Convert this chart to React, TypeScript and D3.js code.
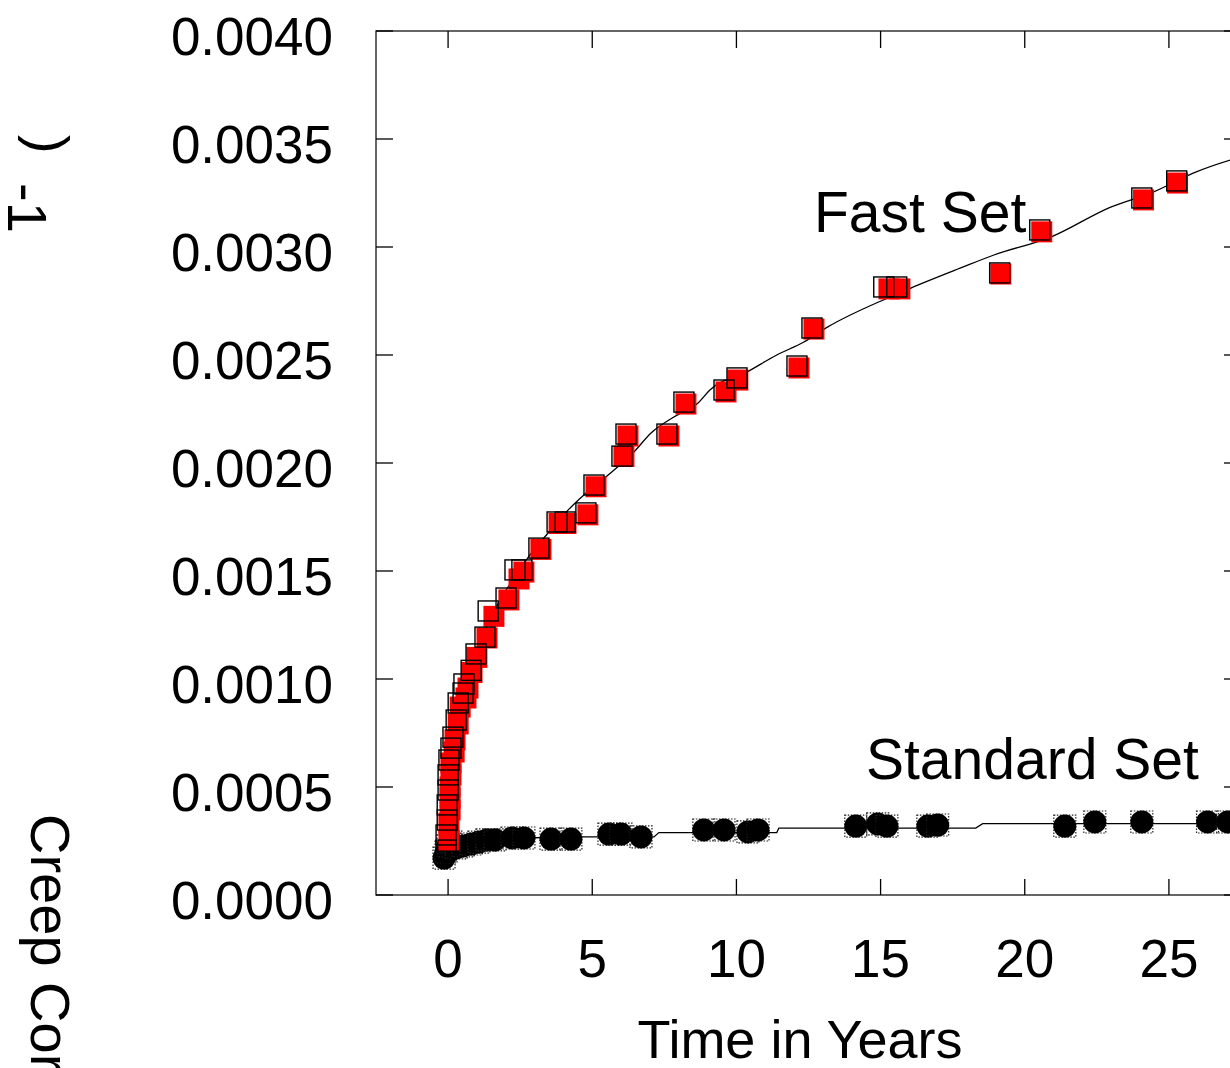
import React, { useEffect, useRef } from 'react';
import * as d3 from 'd3';

const W = 1230;
const H = 1068;

// Fast Set - red filled squares
const fastRedT = [0.03, 0.03, 0.07, 0.07, 0.07, 0.1, 0.1, 0.21, 0.24, 0.35, 0.42, 0.62, 0.69, 0.83, 1.0, 1.35, 1.59, 2.11, 2.46, 2.63, 3.22, 3.85, 4.09, 4.85, 5.13, 6.1, 6.24, 7.66, 8.25, 9.64, 10.05, 12.17, 12.69, 15.29, 15.67, 19.17, 20.59, 24.12, 25.3];
const fastRedV = [0.000255, 0.000333, 0.000394, 0.000449, 0.0005, 0.000556, 0.000611, 0.000662, 0.000718, 0.000792, 0.00087, 0.000912, 0.000958, 0.00103, 0.0011, 0.00119, 0.00129, 0.001366, 0.001463, 0.001495, 0.0016, 0.00172, 0.00172, 0.00176, 0.00189, 0.00203, 0.002125, 0.002125, 0.002273, 0.002329, 0.002384, 0.00244, 0.00262, 0.002806, 0.002806, 0.002875, 0.00307, 0.003218, 0.003296];

// Fast Set - hollow black squares
const fastOpenT = [-0.07, -0.07, -0.03, -0.03, 0, 0, 0.03, 0.1, 0.17, 0.28, 0.35, 0.52, 0.55, 0.8, 0.97, 1.28, 1.39, 2.01, 2.32, 2.56, 3.15, 3.78, 4.06, 4.78, 5.06, 6.03, 6.17, 7.59, 8.18, 9.57, 10.02, 12.1, 12.62, 15.11, 15.56, 19.13, 20.52, 24.06, 25.27];
const fastOpenV = [0.000208, 0.000278, 0.000347, 0.000417, 0.000486, 0.000556, 0.000625, 0.00068, 0.000731, 0.00081, 0.000889, 0.000935, 0.000977, 0.00104, 0.001116, 0.001194, 0.001315, 0.001375, 0.001505, 0.001505, 0.001606, 0.001727, 0.001727, 0.001769, 0.001898, 0.002032, 0.002134, 0.002134, 0.002282, 0.002338, 0.002394, 0.002449, 0.002625, 0.002815, 0.002815, 0.00288, 0.003079, 0.003227, 0.003306];

// Fast Set fitted curve
const fastFitT = [0, 0.03, 0.14, 0.28, 0.52, 0.87, 1.32, 1.84, 2.36, 2.81, 3.47, 4.16, 4.71, 5.55, 6.41, 7.04, 7.83, 8.67, 9.08, 10.36, 11.4, 12.34, 13.17, 15.25, 16.05, 17.78, 18.93, 20.9, 22.98, 24.47, 25.86, 27.14, 27.5];
const fastFitV = [0.000162, 0.00044, 0.000625, 0.000787, 0.000949, 0.001088, 0.001236, 0.001375, 0.001481, 0.001569, 0.001676, 0.001782, 0.001852, 0.001944, 0.002046, 0.002139, 0.002213, 0.002278, 0.002338, 0.002421, 0.0025, 0.00256, 0.00263, 0.002764, 0.00281, 0.002903, 0.002963, 0.003046, 0.003185, 0.003255, 0.003343, 0.003403, 0.003417];

// Standard Set - black circles
const stdT = [-0.14, -0.07, 0, 0.1, 0.28, 0.52, 0.8, 1.07, 1.35, 1.63, 2.22, 2.63, 3.57, 4.26, 5.58, 6.0, 6.69, 8.87, 9.57, 10.4, 10.75, 14.14, 14.9, 15.22, 16.64, 16.98, 21.39, 22.43, 24.06, 26.34, 27.04];
const stdV = [0.000171, 0.000199, 0.000227, 0.000245, 0.000218, 0.000227, 0.000236, 0.000245, 0.000255, 0.000255, 0.000264, 0.000264, 0.000259, 0.000259, 0.000282, 0.000282, 0.000269, 0.000301, 0.000301, 0.000292, 0.000301, 0.000319, 0.000329, 0.000319, 0.000319, 0.000324, 0.000319, 0.000338, 0.000338, 0.000338, 0.000338];

// Standard Set fitted curve
const stdFitT = [0, 0.07, 0.28, 0.8, 1.49, 2.53, 4.68, 7.14, 7.31, 11.4, 11.47, 18.3, 18.54, 27.5];
const stdFitV = [0.000162, 0.000218, 0.000231, 0.000245, 0.000255, 0.000264, 0.000269, 0.000269, 0.000289, 0.000289, 0.00031, 0.00031, 0.00033, 0.00033];

const xTicks = [0, 5, 10, 15, 20, 25];
const yTicks = [0, 0.0005, 0.001, 0.0015, 0.002, 0.0025, 0.003, 0.0035, 0.004];

const FONT = '"Liberation Sans", Arial, sans-serif';

const App = () => {
  const svgRef = useRef<SVGSVGElement>(null);

  useEffect(() => {
    const svg = d3.select(svgRef.current);
    svg.selectAll('*').remove();

    const x = d3.scaleLinear().domain([-2.5, 27.5]).range([376, 1241]);
    const y = d3.scaleLinear().domain([0, 0.004]).range([895, 31]);
    const [x0, x1] = x.range();
    const [y0, y1] = y.range();

    // frame
    svg.append('rect')
      .attr('x', x0).attr('y', y1)
      .attr('width', x1 - x0).attr('height', y0 - y1)
      .attr('fill', 'none').attr('stroke', '#000').attr('stroke-width', 1.2);

    // inward ticks on all four sides
    const tk = svg.append('g').attr('stroke', '#000').attr('stroke-width', 1.3);
    xTicks.forEach(t => {
      tk.append('line').attr('x1', x(t)).attr('x2', x(t)).attr('y1', y0).attr('y2', y0 - 16);
      tk.append('line').attr('x1', x(t)).attr('x2', x(t)).attr('y1', y1).attr('y2', y1 + 17);
    });
    yTicks.forEach(v => {
      tk.append('line').attr('x1', x0).attr('x2', x0 + 17).attr('y1', y(v)).attr('y2', y(v));
      tk.append('line').attr('x1', x1).attr('x2', x1 - 17).attr('y1', y(v)).attr('y2', y(v));
    });

    // tick labels
    const fmt = d3.format('.4f');
    svg.append('g').selectAll('text').data(yTicks).join('text')
      .attr('x', 333).attr('y', d => y(d) + 23.5)
      .attr('text-anchor', 'end')
      .style('font-family', FONT).style('font-size', '53px')
      .text(d => fmt(d));
    svg.append('g').selectAll('text').data(xTicks).join('text')
      .attr('x', d => x(d)).attr('y', 977)
      .attr('text-anchor', 'middle')
      .style('font-family', FONT).style('font-size', '53px')
      .text(d => d);

    // axis titles
    svg.append('text')
      .attr('x', 800).attr('y', 1058)
      .attr('text-anchor', 'middle')
      .style('font-family', FONT).style('font-size', '54px')
      .text('Time in Years');

    const rotText = (tx: number, ty: number, s: string) =>
      svg.append('text')
        .attr('transform', `translate(${tx},${ty}) rotate(90)`)
        .style('font-family', FONT).style('font-size', '56px')
        .text(s);
    rotText(30, 135, ')');
    rotText(8, 183, '-1');
    rotText(31, 814, 'Creep Cor');

    // fitted curves
    const line = d3.line<[number, number]>()
      .x(d => x(d[0]))
      .y(d => y(d[1]));
    svg.append('path')
      .datum(stdFitT.map((t, i) => [t, stdFitV[i]] as [number, number]))
      .attr('fill', 'none').attr('stroke', '#000').attr('stroke-width', 1.3)
      .attr('d', line);
    svg.append('path')
      .datum(fastFitT.map((t, i) => [t, fastFitV[i]] as [number, number]))
      .attr('fill', 'none').attr('stroke', '#000').attr('stroke-width', 1.3)
      .attr('d', line.curve(d3.curveMonotoneX));

    // Standard set markers
    const std = svg.append('g');
    stdT.forEach((t, i) => {
      std.append('rect')
        .attr('x', x(t) - 11).attr('y', y(stdV[i]) - 11)
        .attr('width', 22).attr('height', 22)
        .attr('fill', 'none').attr('stroke', '#222')
        .attr('stroke-width', 1.2).attr('stroke-dasharray', '1.5,1.5');
      std.append('circle')
        .attr('cx', x(t)).attr('cy', y(stdV[i])).attr('r', 11.5)
        .attr('fill', '#000');
    });

    // Fast set markers
    const fast = svg.append('g');
    fastRedT.forEach((t, i) => {
      fast.append('rect')
        .attr('x', x(t) - 10.5).attr('y', y(fastRedV[i]) - 10.5)
        .attr('width', 21).attr('height', 21)
        .attr('fill', '#ff0000');
    });
    fastOpenT.forEach((t, i) => {
      fast.append('rect')
        .attr('x', x(t) - 10).attr('y', y(fastOpenV[i]) - 10)
        .attr('width', 20).attr('height', 20)
        .attr('fill', 'none').attr('stroke', '#000').attr('stroke-width', 1.4);
    });

    // series labels
    svg.append('text')
      .attr('x', 814).attr('y', 232)
      .style('font-family', FONT).style('font-size', '57px')
      .text('Fast Set');
    svg.append('text')
      .attr('x', 866).attr('y', 779)
      .style('font-family', FONT).style('font-size', '57px')
      .text('Standard Set');
  }, []);

  return (
    <svg
      ref={svgRef}
      width={W}
      height={H}
      style={{ position: 'absolute', left: 0, top: 0, background: '#fff' }}
    />
  );
};

export default App;
